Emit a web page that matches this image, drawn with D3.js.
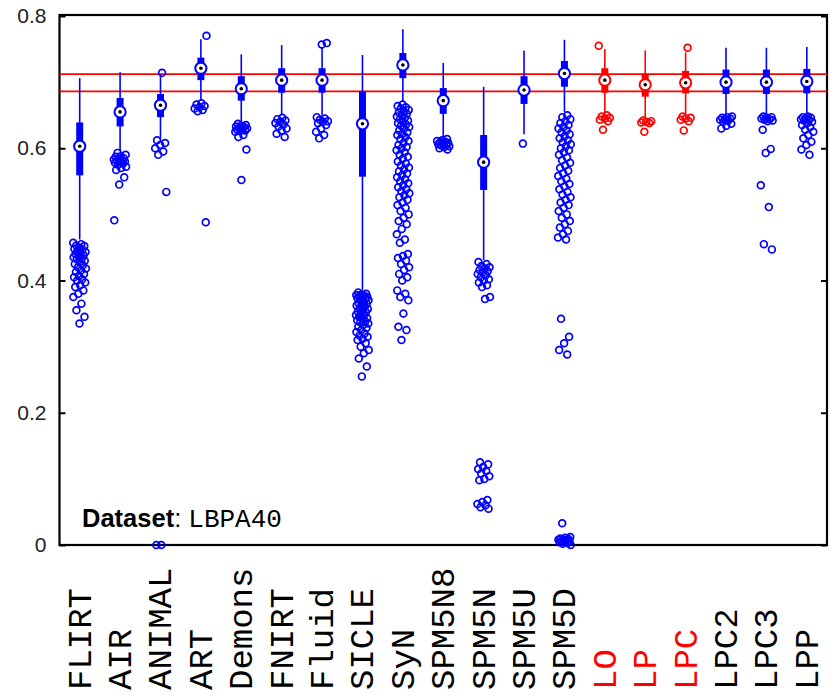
<!DOCTYPE html>
<html>
<head>
<meta charset="utf-8">
<script src="https://d3js.org/d3.v7.min.js"></script>
<style>
body{margin:0;background:#fff;}
svg{display:block;}
</style>
</head>
<body>
<script>
// methods along x, the three proposed ones are drawn red
var methods=["FLIRT","AIR","ANIMAL","ART","Demons","FNIRT","Fluid","SICLE","SyN","SPM5N8","SPM5N","SPM5U","SPM5D","LO","LP","LPC","LPC2","LPC3","LPP"];
var highlighted=["LO","LP","LPC"];

var whiskerHigh=[0.706,0.715,0.712,0.765,0.742,0.756,0.753,0.741,0.780,0.729,0.693,0.748,0.764,0.750,0.748,0.745,0.752,0.752,0.753];
var q3=[0.639,0.676,0.682,0.737,0.709,0.721,0.721,0.686,0.744,0.691,0.620,0.709,0.732,0.721,0.713,0.717,0.719,0.719,0.720];
var median=[0.603,0.655,0.665,0.721,0.690,0.703,0.703,0.637,0.726,0.672,0.579,0.688,0.713,0.703,0.696,0.699,0.700,0.700,0.701];
var q1=[0.559,0.633,0.647,0.703,0.672,0.684,0.684,0.557,0.706,0.652,0.537,0.667,0.693,0.684,0.678,0.683,0.682,0.682,0.683];
var whiskerLow=[0.462,0.595,0.615,0.672,0.640,0.650,0.650,0.385,0.670,0.615,0.431,0.621,0.655,0.652,0.645,0.650,0.650,0.650,0.650];

var outliers=[
 [0.457,0.455,0.453,0.452,0.450,0.448,0.447,0.445,0.443,0.442,0.440,0.438,0.437,0.435,0.433,0.432,0.430,0.428,0.425,0.423,0.420,0.418,0.415,0.413,0.410,0.407,0.405,0.402,0.400,0.397,0.393,0.390,0.385,0.380,0.375,0.365,0.355,0.345,0.335],
 [0.593,0.590,0.588,0.587,0.585,0.584,0.583,0.582,0.581,0.580,0.579,0.578,0.577,0.575,0.572,0.570,0.567,0.556,0.545,0.491],
 [0.714,0.612,0.608,0.605,0.600,0.595,0.590,0.534,0.0,0.0],
 [0.770,0.668,0.666,0.664,0.662,0.660,0.658,0.656,0.488],
 [0.637,0.635,0.634,0.633,0.632,0.631,0.630,0.629,0.628,0.627,0.626,0.625,0.620,0.617,0.598,0.552],
 [0.646,0.644,0.642,0.640,0.638,0.636,0.633,0.630,0.627,0.622,0.617],
 [0.759,0.757,0.647,0.645,0.643,0.641,0.640,0.638,0.635,0.630,0.625,0.620,0.615],
 [0.382,0.380,0.379,0.378,0.377,0.376,0.375,0.374,0.373,0.372,0.371,0.370,0.368,0.366,0.365,0.363,0.362,0.360,0.358,0.357,0.355,0.353,0.352,0.350,0.348,0.347,0.345,0.343,0.342,0.340,0.338,0.337,0.335,0.333,0.330,0.328,0.325,0.322,0.320,0.317,0.315,0.312,0.310,0.305,0.300,0.295,0.290,0.282,0.270,0.255],
 [0.666,0.664,0.662,0.660,0.658,0.656,0.654,0.652,0.650,0.648,0.646,0.644,0.642,0.640,0.638,0.636,0.634,0.632,0.630,0.627,0.624,0.622,0.620,0.617,0.614,0.611,0.608,0.605,0.602,0.600,0.597,0.594,0.590,0.587,0.584,0.580,0.577,0.574,0.571,0.568,0.565,0.562,0.559,0.556,0.553,0.550,0.547,0.544,0.541,0.538,0.535,0.532,0.529,0.526,0.522,0.518,0.514,0.510,0.505,0.500,0.495,0.490,0.485,0.478,0.470,0.462,0.457,0.440,0.437,0.434,0.430,0.425,0.420,0.416,0.410,0.405,0.400,0.385,0.380,0.375,0.370,0.350,0.330,0.325,0.310],
 [0.614,0.612,0.611,0.610,0.609,0.608,0.607,0.606,0.605,0.604,0.603,0.602,0.600,0.598],
 [0.428,0.425,0.422,0.420,0.418,0.416,0.414,0.412,0.410,0.408,0.405,0.402,0.400,0.397,0.393,0.390,0.375,0.372,0.125,0.122,0.118,0.115,0.112,0.108,0.104,0.100,0.098,0.068,0.065,0.062,0.060,0.057,0.055],
 [0.607],
 [0.650,0.647,0.644,0.641,0.638,0.635,0.632,0.630,0.627,0.624,0.621,0.618,0.615,0.612,0.609,0.606,0.603,0.600,0.597,0.594,0.590,0.586,0.582,0.578,0.574,0.570,0.566,0.562,0.558,0.554,0.550,0.546,0.542,0.538,0.534,0.530,0.526,0.522,0.518,0.514,0.510,0.505,0.500,0.495,0.490,0.485,0.480,0.475,0.470,0.465,0.462,0.342,0.315,0.305,0.295,0.288,0.033,0.012,0.011,0.010,0.009,0.008,0.008,0.007,0.006,0.006,0.005,0.004,0.003,0.002,0.0],
 [0.755,0.650,0.648,0.646,0.645,0.643,0.641,0.628],
 [0.642,0.641,0.640,0.639,0.638,0.625],
 [0.752,0.648,0.646,0.645,0.643,0.641,0.627],
 [0.648,0.647,0.646,0.645,0.644,0.643,0.642,0.640,0.637,0.634,0.630],
 [0.648,0.647,0.646,0.645,0.644,0.643,0.642,0.641,0.628,0.599,0.593,0.544,0.511,0.455,0.447],
 [0.648,0.647,0.646,0.645,0.644,0.643,0.642,0.640,0.638,0.635,0.632,0.628,0.625,0.620,0.615,0.610,0.605,0.598,0.590]
];

var refLines=[0.686,0.712];
var yTicks=[0,0.2,0.4,0.6,0.8];
var datasetName="LBPA40";

var W=831,H=696;
var plotL=59.5,plotR=827,plotT=16,plotB=545;

var svg=d3.select("body").append("svg").attr("width",W).attr("height",H);

var x=d3.scalePoint().domain(methods).range([plotL,plotR]).padding(0.5);
var y=d3.scaleLinear().domain([0,0.8]).range([plotB,plotT]);

function col(m){ return highlighted.indexOf(m)>=0 ? "#ff0000" : "#0000ff"; }

// frame
svg.append("rect")
 .attr("x",plotL).attr("y",plotT-1).attr("width",plotR-plotL).attr("height",plotB-plotT+1)
 .attr("fill","none").attr("stroke","#000").attr("stroke-width",2.2);

// y axis ticks + labels
var yAxis=d3.axisLeft(y).tickValues(yTicks).tickSizeInner(-6).tickSizeOuter(0).tickPadding(13)
 .tickFormat(function(d){ return d===0 ? "0" : d.toFixed(1); });
var ga=svg.append("g").attr("transform","translate("+plotL+",0)").call(yAxis);
ga.select(".domain").remove();
ga.selectAll("line").attr("stroke","#000").attr("stroke-width",2);
ga.selectAll("text").attr("font-family","'Liberation Sans',Arial,sans-serif").attr("font-size",21).attr("fill","#222");

var yAxisR=d3.axisRight(y).tickValues(yTicks).tickSizeInner(-6).tickSizeOuter(0).tickFormat("");
var gr=svg.append("g").attr("transform","translate("+plotR+",0)").call(yAxisR);
gr.select(".domain").remove();
gr.selectAll("line").attr("stroke","#000").attr("stroke-width",2);

// reference lines
svg.append("g").selectAll("line").data(refLines).enter().append("line")
 .attr("x1",plotL).attr("x2",plotR)
 .attr("y1",function(d){return y(d);}).attr("y2",function(d){return y(d);})
 .attr("stroke","#ff0000").attr("stroke-width",1.8);

// boxes
var g=svg.append("g").selectAll("g").data(methods).enter().append("g")
 .attr("transform",function(d){ return "translate("+x(d)+",0)"; });

g.append("line")
 .attr("y1",function(d,i){return y(whiskerHigh[i]);})
 .attr("y2",function(d,i){return y(whiskerLow[i]);})
 .attr("stroke",col).attr("stroke-width",1.6);

g.append("rect")
 .attr("x",-3.5).attr("width",7)
 .attr("y",function(d,i){return y(q3[i]);})
 .attr("height",function(d,i){return y(q1[i])-y(q3[i]);})
 .attr("fill",col);

// outliers with a fixed spread in x
g.each(function(m,i){
  d3.select(this).selectAll("circle.out").data(outliers[i]).enter().append("circle")
   .attr("class","out")
   .attr("cx",function(v,k){ return ((k*0.618034+i*0.31)%1-0.5)*13; })
   .attr("cy",function(v){return y(v);})
   .attr("r",3.4)
   .attr("fill","none").attr("stroke",col(m)).attr("stroke-width",1.7);
});

g.append("circle")
 .attr("cy",function(d,i){return y(median[i]);})
 .attr("r",5.6).attr("fill","#fff").attr("stroke",col).attr("stroke-width",2);
g.append("circle")
 .attr("cy",function(d,i){return y(median[i]);})
 .attr("r",1.8).attr("fill","#000");

// category labels
svg.append("g").selectAll("text").data(methods).enter().append("text")
 .attr("transform",function(d){ return "translate("+(x(d)+11)+",690) rotate(-90)"; })
 .attr("font-family","'Liberation Mono','Courier New',monospace")
 .attr("font-size",34)
 .attr("fill",function(d){ return highlighted.indexOf(d)>=0 ? "#ff0000" : "#000"; })
 .text(function(d){return d;});

// dataset note
var t=svg.append("text").attr("x",82).attr("y",527).attr("fill","#000");
t.append("tspan").attr("font-family","'Liberation Sans',Arial,sans-serif").attr("font-weight","bold").attr("font-size",25.5).text("Dataset");
t.append("tspan").attr("font-family","'Liberation Sans',Arial,sans-serif").attr("font-size",25.5).text(": ");
t.append("tspan").attr("font-family","'Liberation Mono','Courier New',monospace").attr("font-size",26).text(datasetName);
</script>
</body>
</html>
